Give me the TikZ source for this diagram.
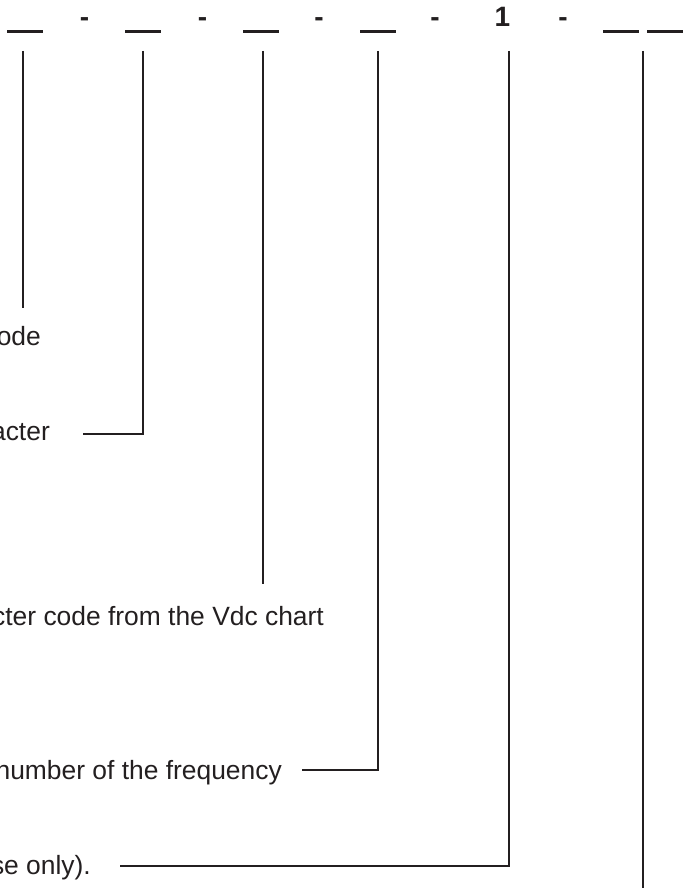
\documentclass[tikz,border=0pt]{standalone}
\usepackage{fontspec}
\setmainfont{Liberation Sans}
\usetikzlibrary{positioning}
\definecolor{ink}{HTML}{231F20}

\begin{document}
\begin{tikzpicture}[
  x=1pt, y=-1pt,
  blank/.style={fill=ink, minimum width=36pt, minimum height=3pt, inner sep=0pt},
  sep/.style={font=\fontsize{28}{30}\selectfont\bfseries, text=ink, inner sep=0pt, anchor=base},
  lbl/.style={font=\fontsize{26.4}{30}\selectfont, text=ink, inner sep=0pt, anchor=base east},
  lead/.style={draw=ink, line width=1.6pt}
]
  \useasboundingbox (0,0) rectangle (686,888);

  % code line
  \node[blank] (b1) at (25,32) {};
  \node[blank] (b2) at (143,32) {};
  \node[blank] (b3) at (260.5,32) {};
  \node[blank] (b4) at (377.5,32) {};
  \node[blank] (b5) at (621,32) {};
  \node[blank] (b6) at (665,32) {};

  \node[sep] (d1) at (84.5,27) {-};
  \node[sep] (d2) at (202.5,27) {-};
  \node[sep] (d3) at (319,27) {-};
  \node[sep] (d4) at (435,27) {-};
  \node[sep] (one) at (502.5,27) {1};
  \node[sep] (d5) at (563,27) {-};

  \coordinate (t1) at (23,51);
  \coordinate (t2) at (143,51);
  \coordinate (t3) at (263,51);
  \coordinate (t4) at (378,51);
  \coordinate (t5) at (509,51);
  \coordinate (t6) at (643,51);
  \coordinate (e6) at (643,888);

  % descriptions
  \node[lbl] (ode) at (41,345) {ode};
  \node[lbl] (acter) at (50,440) {acter};
  \node[lbl] (vdc) at (324,625) {cter code from the Vdc chart};
  \node[lbl] (freq) at (282,779) {number of the frequency};
  \node[lbl] (only) at (91,874) {se only).};

  \draw[lead] (t1) -- ([yshift=18pt]ode.north -| t1);
  \draw[lead] (t2) |- ([xshift=33pt,yshift=6pt]acter.base east);
  \draw[lead] (t3) -- ([yshift=22pt]vdc.north -| t3);
  \draw[lead] (t4) |- ([xshift=20pt,yshift=9pt]freq.base east);
  \draw[lead] (t5) |- ([xshift=29pt,yshift=8pt]only.base east);
  \draw[lead] (t6) -- (e6);
\end{tikzpicture}
\end{document}
